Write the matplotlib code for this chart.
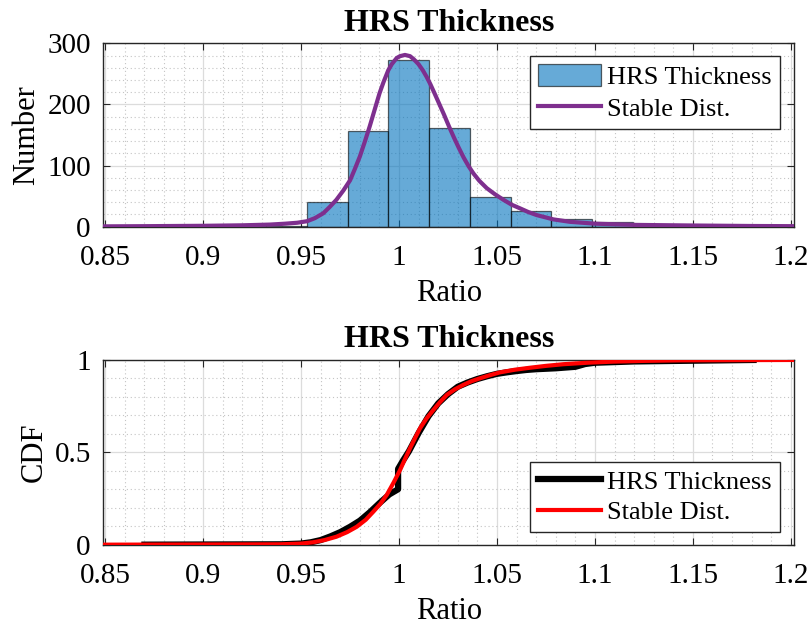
import numpy as np
import matplotlib
matplotlib.use("Agg")
import matplotlib.pyplot as plt
from matplotlib.ticker import MultipleLocator, FixedLocator

plt.rcParams['font.family'] = ['Liberation Serif', 'DejaVu Serif']

# ---------------- data ----------------
bin_edges = [0.8697, 0.8905, 0.9113, 0.9321, 0.9529, 0.9737, 0.9945, 1.0153,
             1.0361, 1.0569, 1.0777, 1.0985, 1.1193, 1.1401, 1.1609, 1.1817]
bin_counts = [1, 0, 1, 2, 41, 157, 272, 162, 48, 25, 12, 7, 3, 1, 1]

pdf_x = [0.849, 0.870, 0.900, 0.920, 0.934, 0.942, 0.948, 0.953, 0.957, 0.9613,
         0.9645, 0.968, 0.9715, 0.975, 0.9775, 0.980, 0.9825, 0.985, 0.9875,
         0.990, 0.992, 0.9945, 0.9963, 0.9988, 1.0005, 1.003, 1.0056, 1.0075,
         1.0099, 1.0121, 1.0141, 1.0160, 1.0180, 1.0205, 1.0230, 1.0255,
         1.0280, 1.0305, 1.0330, 1.0355, 1.0380, 1.0410, 1.0448, 1.0490,
         1.0533, 1.0575, 1.0618, 1.0660, 1.0703, 1.0788, 1.0873, 1.100,
         1.120, 1.150, 1.180, 1.202]
pdf_y = [0.6, 0.9, 1.5, 2.3, 3.5, 5.0, 6.5, 9, 14, 22,
         32, 44, 59, 76, 95, 115, 139, 164, 191,
         218, 236, 256, 266, 276, 279, 281, 279, 274,
         266, 256, 245, 233, 219, 201, 183, 164,
         146, 129, 113, 99, 87, 75, 63, 53,
         44, 36, 30, 24, 19, 12, 8, 5,
         3, 2, 1.2, 0.9]

ecdf_x = [0.870, 0.940, 0.950, 0.955, 0.960, 0.965, 0.970, 0.975, 0.980, 0.985,
          0.990, 0.995, 0.9995, 0.9995, 1.002, 1.005, 1.008, 1.010, 1.015,
          1.020, 1.025, 1.030, 1.035, 1.040, 1.045, 1.050, 1.055, 1.060,
          1.065, 1.070, 1.080, 1.090, 1.095, 1.100, 1.120, 1.150, 1.181]
ecdf_y = [0.000, 0.002, 0.006, 0.013, 0.025, 0.045, 0.068, 0.097, 0.130, 0.175,
          0.225, 0.272, 0.300, 0.410, 0.455, 0.505, 0.565, 0.605, 0.695,
          0.765, 0.815, 0.855, 0.878, 0.897, 0.912, 0.925, 0.933, 0.940,
          0.946, 0.950, 0.955, 0.963, 0.978, 0.985, 0.992, 0.996, 1.000]

cdf_fit_x = [0.849, 0.900, 0.9394, 0.950, 0.9562, 0.962, 0.968, 0.9735, 0.9784,
             0.9830, 0.9869, 0.9905, 0.9937, 0.9972, 1.0005, 1.0030, 1.0056,
             1.0082, 1.0107, 1.0140, 1.0175, 1.0210, 1.0244, 1.0285, 1.0328,
             1.0370, 1.0414, 1.0465, 1.0516, 1.0590, 1.0669, 1.0750, 1.0839,
             1.0960, 1.1094, 1.1250, 1.1435, 1.170, 1.202]
cdf_fit_y = [0.000, 0.001, 0.002, 0.006, 0.013, 0.025, 0.043, 0.068, 0.097,
             0.135, 0.179, 0.222, 0.269, 0.336, 0.404, 0.463, 0.522,
             0.578, 0.630, 0.683, 0.729, 0.773, 0.811, 0.841, 0.865,
             0.885, 0.901, 0.918, 0.933, 0.947, 0.958, 0.968, 0.977,
             0.985, 0.991, 0.995, 0.998, 0.999, 1.000]

x_ticks = [0.85, 0.90, 0.95, 1.00, 1.05, 1.10, 1.15, 1.20]
x_tick_labels = ["0.85", "0.9", "0.95", "1", "1.05", "1.1", "1.15", "1.2"]
hist_y_ticks = [0, 100, 200, 300]
hist_y_labels = ["0", "100", "200", "300"]
cdf_y_ticks = [0, 0.5, 1]
cdf_y_labels = ["0", "0.5", "1"]

title_text = "HRS Thickness"
series_hist = "HRS Thickness"
series_fit = "Stable Dist."

# ---------------- style ----------------
AX_COL = '#262626'
BAR_COL = '#0072BD'
PURPLE = '#7E2F8E'

fig = plt.figure(figsize=(8.07, 6.27), dpi=100)
ax1 = fig.add_axes([0.128, 0.6384, 0.8563, 0.2925])
ax2 = fig.add_axes([0.128, 0.1313, 0.8563, 0.2946])


def style_axes(ax, yticks, ylabels, ylim, yminor):
    ax.set_xlim(0.849, 1.2018)
    ax.set_ylim(*ylim)
    ax.xaxis.set_major_locator(FixedLocator(x_ticks))
    ax.set_xticklabels(x_tick_labels)
    ax.yaxis.set_major_locator(FixedLocator(yticks))
    ax.set_yticklabels(ylabels)
    ax.xaxis.set_minor_locator(MultipleLocator(0.01))
    ax.yaxis.set_minor_locator(MultipleLocator(yminor))
    ax.set_axisbelow(True)
    ax.grid(True, which='major', color='#dcdcdc', linewidth=0.9, linestyle='-')
    ax.grid(True, which='minor', color='#c4c4c4', linewidth=0.8, linestyle=(0, (1, 2.5)))
    ax.tick_params(which='major', direction='in', length=5, width=0.8,
                   top=True, right=True, colors=AX_COL, labelcolor='black',
                   labelsize=21)
    ax.tick_params(axis='x', which='major', pad=13)
    ax.tick_params(axis='y', which='major', pad=9)
    ax.tick_params(which='minor', length=0, top=True, right=True)
    for s in ax.spines.values():
        s.set_color(AX_COL)
        s.set_linewidth(1.0)
    ax.set_xlabel("Ratio", fontsize=22, labelpad=6)
    ax.set_title(title_text, fontsize=23, fontweight='bold', pad=9)


# ---------------- top: histogram + fitted pdf ----------------
edges = np.array(bin_edges)
bars = ax1.bar(edges[:-1], bin_counts, width=np.diff(edges), align='edge',
               color=BAR_COL, alpha=0.6, edgecolor='black', linewidth=0.9,
               label=series_hist, zorder=2)
line_pdf, = ax1.plot(pdf_x, pdf_y, color=PURPLE, linewidth=3.0, label=series_fit,
                     zorder=3, solid_joinstyle='round')
style_axes(ax1, hist_y_ticks, hist_y_labels, (0, 300), 20)
ax1.set_ylabel("Number", fontsize=22, labelpad=4)
leg1 = ax1.legend([bars, line_pdf], [series_hist, series_fit],
                  loc='upper right', bbox_to_anchor=(0.9793, 0.9308),
                  borderaxespad=0, fontsize=19, frameon=True, fancybox=False,
                  framealpha=1, edgecolor=AX_COL, handlelength=2.4,
                  handleheight=0.9, handletextpad=0.25, labelspacing=0.25,
                  borderpad=0.3)
leg1.get_frame().set_linewidth(1.0)

# ---------------- bottom: empirical cdf + fitted cdf ----------------
line_ecdf, = ax2.plot(ecdf_x, ecdf_y, color='black', linewidth=4.5, label=series_hist,
                      zorder=3, solid_joinstyle='round')
line_fit, = ax2.plot(cdf_fit_x, cdf_fit_y, color='red', linewidth=3.0, label=series_fit,
                     zorder=4, solid_joinstyle='round')
style_axes(ax2, cdf_y_ticks, cdf_y_labels, (0, 1), 0.1)
ax2.set_ylabel("CDF", fontsize=22, labelpad=4)
leg2 = ax2.legend([line_ecdf, line_fit], [series_hist, series_fit],
                  loc='lower right', bbox_to_anchor=(0.9793, 0.0704),
                  borderaxespad=0, fontsize=19, frameon=True, fancybox=False,
                  framealpha=1, edgecolor=AX_COL, handlelength=2.4,
                  handletextpad=0.25, labelspacing=0.25, borderpad=0.3)
leg2.get_frame().set_linewidth(1.0)

fig.savefig("out.png", dpi=100)
